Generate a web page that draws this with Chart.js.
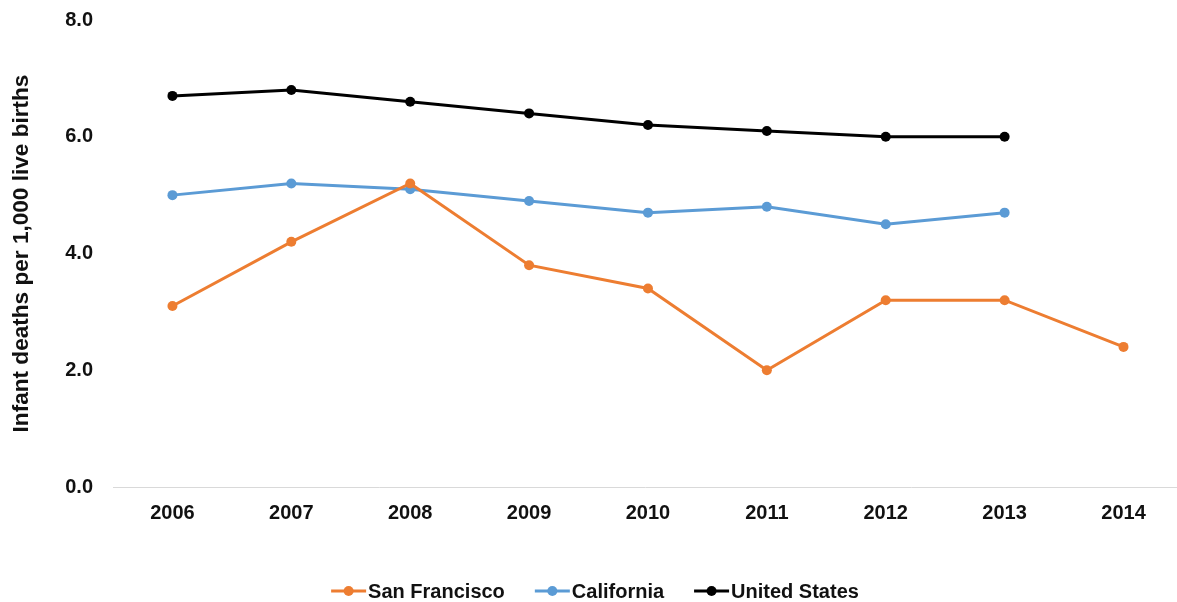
<!DOCTYPE html>
<html>
<head>
<meta charset="utf-8">
<script src="https://cdn.jsdelivr.net/npm/chart.js@4.4.1/dist/chart.umd.min.js"></script>
<style>
html,body{margin:0;padding:0;background:#fff;overflow:hidden;}
#c{display:block;}
</style>
</head>
<body>
<canvas id="c" width="1177" height="602"></canvas>
<script>
const years = [2006, 2007, 2008, 2009, 2010, 2011, 2012, 2013, 2014];
const sanFrancisco = [3.1, 4.2, 5.2, 3.8, 3.4, 2.0, 3.2, 3.2, 2.4];
const california = [5.0, 5.2, 5.1, 4.9, 4.7, 4.8, 4.5, 4.7, null];
const unitedStates = [6.7, 6.8, 6.6, 6.4, 6.2, 6.1, 6.0, 6.0, null];
const seriesNames = ['San Francisco', 'California', 'United States'];
const seriesColors = ['#ED7D31', '#5B9BD5', '#000000'];
const yTitle = 'Infant deaths per 1,000 live births';

const FONT = '"Liberation Sans", Arial, sans-serif';
const TEXT = '#111111';

const legendPlugin = {
  id: 'customLegend',
  afterDraw(chart) {
    const ctx = chart.ctx;
    ctx.save();
    ctx.font = 'bold 20px ' + FONT;
    const lineLen = 35, gapLT = 2, gapItems = 30;
    const widths = seriesNames.map(n => ctx.measureText(n).width);
    let total = 0;
    widths.forEach((w, i) => { total += lineLen + gapLT + w + (i < widths.length - 1 ? gapItems : 0); });
    let x = 595 - total / 2;
    const y = 591;
    chart.data.datasets.forEach((ds, i) => {
      ctx.strokeStyle = ds.borderColor;
      ctx.lineWidth = 3;
      ctx.beginPath();
      ctx.moveTo(x, y);
      ctx.lineTo(x + lineLen, y);
      ctx.stroke();
      ctx.fillStyle = ds.borderColor;
      ctx.beginPath();
      ctx.arc(x + lineLen / 2, y, 5, 0, Math.PI * 2);
      ctx.fill();
      x += lineLen + gapLT;
      ctx.fillStyle = TEXT;
      ctx.textBaseline = 'middle';
      ctx.textAlign = 'left';
      ctx.fillText(ds.label, x, y + 1);
      x += widths[i] + gapItems;
    });
    ctx.restore();
  }
};

const mk = (label, values, color) => ({
  label,
  data: years.map((yr, i) => ({ x: yr, y: values[i] })),
  borderColor: color,
  backgroundColor: color,
  borderWidth: 3,
  pointRadius: 5,
  pointHoverRadius: 5,
  pointBackgroundColor: color,
  pointBorderColor: color,
  pointBorderWidth: 0,
  tension: 0,
  spanGaps: false,
  clip: false
});

new Chart(document.getElementById('c'), {
  type: 'line',
  data: {
    datasets: [
      mk(seriesNames[0], sanFrancisco, seriesColors[0]),
      mk(seriesNames[1], california, seriesColors[1]),
      mk(seriesNames[2], unitedStates, seriesColors[2])
    ]
  },
  options: {
    responsive: false,
    animation: false,
    layout: { autoPadding: false, padding: { top: 20, bottom: 75, left: 0, right: 0 } },
    plugins: { legend: { display: false }, tooltip: { enabled: false } },
    scales: {
      x: {
        type: 'linear',
        min: 2005.5,
        max: 2014.45,
        grid: { display: false, drawTicks: false },
        border: { display: true, color: '#D9D9D9', width: 1 },
        ticks: {
          stepSize: 1,
          includeBounds: false,
          color: TEXT,
          font: { family: FONT, size: 20, weight: 'bold' },
          padding: 14,
          maxRotation: 0,
          autoSkip: false,
          callback: v => Number.isInteger(v) ? String(v) : ''
        },
        afterFit(s) { s.height = 40; s.paddingLeft = 0; s.paddingRight = 0; }
      },
      y: {
        min: 0, max: 8,
        grid: { display: false, drawTicks: false },
        border: { display: false },
        ticks: {
          stepSize: 2,
          color: TEXT,
          font: { family: FONT, size: 20, weight: 'bold' },
          padding: 20,
          callback: v => Number(v).toFixed(1)
        },
        title: {
          display: true,
          text: yTitle,
          color: TEXT,
          font: { family: FONT, size: 22.6, weight: 'bold' },
          padding: { top: 8, bottom: 0 }
        },
        afterFit(s) { s.width = 113; s.paddingTop = 0; s.paddingBottom = 0; }
      }
    }
  },
  plugins: [legendPlugin]
});
</script>
</body>
</html>
